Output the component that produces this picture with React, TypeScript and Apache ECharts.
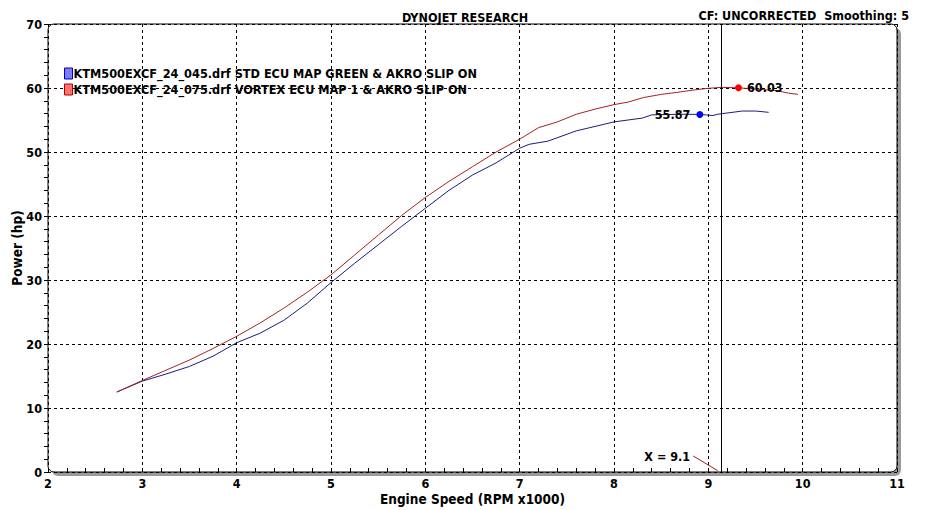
import React, { useEffect, useRef } from "react";
import * as echarts from "echarts";

const stdRpm = [2.73, 3.0, 3.25, 3.5, 3.75, 4.0, 4.25, 4.5, 4.75, 5.0, 5.25, 5.5, 5.75, 6.0, 6.25, 6.5, 6.75, 7.0, 7.1, 7.3, 7.6, 8.0, 8.3, 8.4, 8.7, 8.91, 9.05, 9.1, 9.36, 9.5, 9.64];
const stdHp = [12.5, 14.2, 15.3, 16.5, 18.1, 20.2, 21.7, 23.7, 26.4, 29.6, 32.6, 35.5, 38.4, 41.2, 44.0, 46.4, 48.3, 50.6, 51.2, 51.7, 53.3, 54.7, 55.3, 55.8, 55.9, 55.87, 55.7, 55.9, 56.4, 56.4, 56.2];

const vortexRpm = [2.73, 3.0, 3.25, 3.5, 3.75, 4.0, 4.25, 4.5, 4.75, 5.0, 5.25, 5.5, 5.75, 6.0, 6.25, 6.5, 6.75, 7.0, 7.2, 7.4, 7.6, 7.8, 8.0, 8.15, 8.31, 8.5, 8.66, 8.85, 9.0, 9.14, 9.32, 9.53, 9.72, 9.85, 9.95];
const vortexHp = [12.5, 14.3, 15.9, 17.5, 19.3, 21.2, 23.3, 25.6, 28.1, 30.8, 33.9, 37.0, 40.1, 42.9, 45.4, 47.7, 50.0, 52.0, 53.8, 54.7, 55.9, 56.7, 57.4, 57.8, 58.5, 59.0, 59.3, 59.7, 59.95, 60.1, 60.03, 59.8, 59.6, 59.2, 59.0];

const seriesNames = [
  "KTM500EXCF_24_045.drf STD ECU MAP GREEN & AKRO SLIP ON",
  "KTM500EXCF_24_075.drf VORTEX ECU MAP 1 & AKRO SLIP ON",
];
const stdPeak = [8.91, 55.87];
const vortexPeak = [9.32, 60.03];
const cursorX = 9.14;
const cursorLabel = "X = 9.1";
const cursorLabelAt = [8.84, 2.5];
const cursorLabelEnd = [9.1, 0.2];

const FONT = "'DejaVu Sans Condensed', 'DejaVu Sans', sans-serif";

export default function App() {
  const ref = useRef<HTMLDivElement>(null);
  useEffect(() => {
    const chart = echarts.init(ref.current!, null, { renderer: "svg" });
    const G = { left: 48, top: 24, width: 849, height: 448 };
    chart.setOption({
      animation: false,
      backgroundColor: "#ffffff",
      textStyle: { fontFamily: FONT },
      title: [
        {
          text: "DYNOJET RESEARCH",
          left: "center",
          top: 6,
          textStyle: { fontFamily: FONT, fontWeight: "bold", fontSize: 12.5, color: "#000" },
        },
        {
          text: "CF: UNCORRECTED  Smoothing: 5",
          right: 16,
          top: 4,
          textStyle: { fontFamily: FONT, fontWeight: "bold", fontSize: 12.5, color: "#000" },
        },
      ],
      legend: {
        orient: "vertical",
        left: 59,
        top: 62,
        itemGap: 3,
        itemWidth: 8,
        itemHeight: 11,
        icon: "rect",
        textStyle: { fontFamily: FONT, fontWeight: "bold", fontSize: 12.6, color: "#000", padding: [0, 0, 0, -4] },
        data: [
          { name: seriesNames[0], itemStyle: { color: "#7c7cff", borderColor: "#0000b0", borderWidth: 1 } },
          { name: seriesNames[1], itemStyle: { color: "#ff7070", borderColor: "#b00000", borderWidth: 1 } },
        ],
      },
      grid: { ...G, outerBoundsMode: "none", containLabel: false },
      graphic: [
        {
          type: "rect",
          z: -20,
          silent: true,
          shape: { x: G.left + 4, y: G.top + 4, width: G.width, height: G.height, r: 6 },
          style: { fill: "#9a9a9a" },
        },
        {
          type: "rect",
          z: -10,
          silent: true,
          shape: { x: G.left, y: G.top, width: G.width, height: G.height, r: 6 },
          style: { fill: "#ffffff", stroke: "#000", lineWidth: 1 },
        },
      ],
      xAxis: {
        type: "value",
        min: 2,
        max: 11,
        interval: 1,
        name: "Engine Speed (RPM x1000)",
        nameLocation: "middle",
        nameGap: 20,
        nameMoveOverlap: false,
        nameTextStyle: { fontFamily: FONT, fontWeight: "bold", fontSize: 13.5, lineHeight: 14, color: "#000" },
        axisLine: { show: false },
        axisTick: { show: true, inside: true, length: 4, lineStyle: { color: "#000" } },
        minorTick: { show: true, splitNumber: 5, length: 4, lineStyle: { color: "#000" } },
        axisLabel: { fontFamily: FONT, fontWeight: "bold", fontSize: 12.5, lineHeight: 12, color: "#000", margin: 5 },
        splitLine: { show: true, lineStyle: { color: "#000", type: [3, 3], width: 1 } },
      },
      yAxis: {
        type: "value",
        min: 0,
        max: 70,
        interval: 10,
        name: "Power (hp)",
        nameLocation: "middle",
        nameGap: 24,
        nameMoveOverlap: false,
        nameTextStyle: { fontFamily: FONT, fontWeight: "bold", fontSize: 13.5, color: "#000" },
        axisLine: { show: false },
        axisTick: { show: true, length: 4, lineStyle: { color: "#000" } },
        minorTick: { show: true, splitNumber: 5, length: 4, lineStyle: { color: "#000" } },
        axisLabel: { fontFamily: FONT, fontWeight: "bold", fontSize: 12.5, color: "#000", margin: 6 },
        splitLine: { show: true, lineStyle: { color: "#000", type: [3, 3], width: 1 } },
      },
      series: [
        {
          name: seriesNames[0],
          type: "line",
          showSymbol: false,
          color: "#1c1c80",
          lineStyle: { width: 1, color: "#1c1c80" },
          data: stdRpm.map((r, i) => [r, stdHp[i]]),
          z: 3,
          markPoint: {
            symbol: "circle",
            symbolSize: 7,
            itemStyle: { color: "#0000ff" },
            label: {
              show: true,
              position: "left",
              distance: 6,
              fontFamily: FONT,
              fontWeight: "bold",
              fontSize: 12.5,
              color: "#000",
              formatter: () => stdPeak[1].toFixed(2),
            },
            data: [{ coord: stdPeak }],
          },
          markLine: {
            silent: true,
            symbol: "none",
            label: { show: false },
            lineStyle: { color: "#000", type: "solid", width: 1 },
            data: [{ xAxis: cursorX }],
          },
        },
        {
          name: seriesNames[1],
          type: "line",
          showSymbol: false,
          color: "#b02828",
          lineStyle: { width: 1, color: "#a82020" },
          data: vortexRpm.map((r, i) => [r, vortexHp[i]]),
          z: 4,
          markPoint: {
            symbol: "circle",
            symbolSize: 7,
            itemStyle: { color: "#ff0000" },
            label: {
              show: true,
              position: "right",
              distance: 5,
              fontFamily: FONT,
              fontWeight: "bold",
              fontSize: 12.5,
              color: "#000",
              formatter: () => vortexPeak[1].toFixed(2),
            },
            data: [
              { coord: vortexPeak },
              {
                coord: cursorLabelAt,
                symbol: "circle",
                symbolSize: 0.1,
                label: {
                  show: true,
                  position: "left",
                  distance: 3,
                  fontFamily: FONT,
                  fontWeight: "bold",
                  fontSize: 12.5,
                  color: "#000",
                  formatter: cursorLabel,
                },
              },
            ],
          },
          markLine: {
            silent: true,
            symbol: "none",
            label: { show: false },
            lineStyle: { color: "#a02020", type: "solid", width: 1 },
            data: [[{ coord: cursorLabelAt }, { coord: cursorLabelEnd }]],
          },
        },
      ],
    });
    return () => chart.dispose();
  }, []);
  return (
    <div
      ref={ref}
      style={{ position: "fixed", left: 0, top: 0, width: 930, height: 510 }}
    />
  );
}
